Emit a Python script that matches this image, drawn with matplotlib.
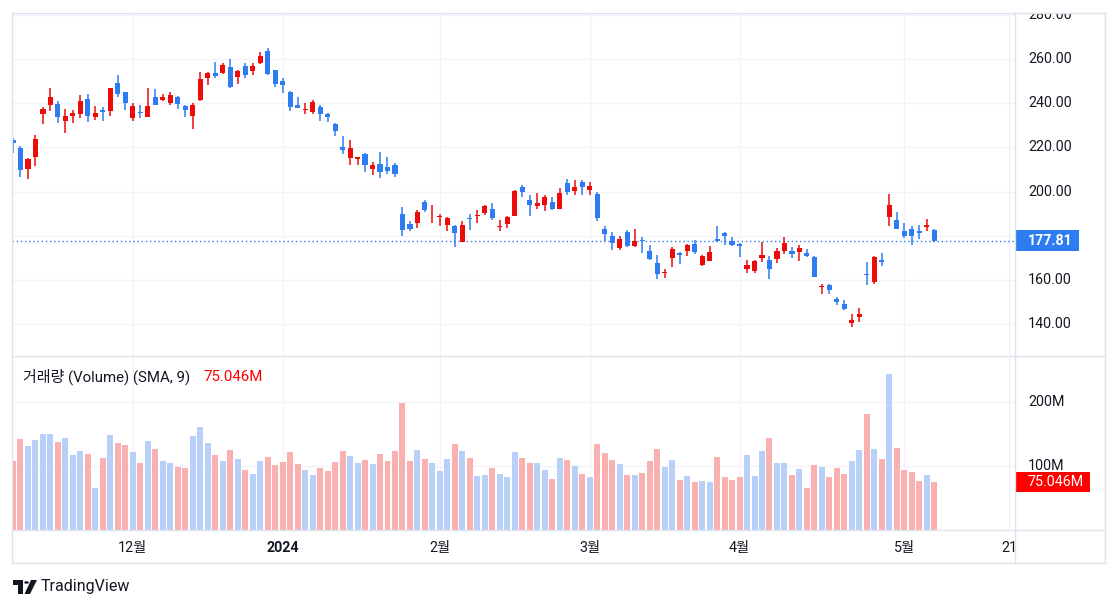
import matplotlib
matplotlib.use("Agg")
import matplotlib.pyplot as plt
from matplotlib.patches import Rectangle, Circle, Polygon
import numpy as np
import pandas as pd

plt.rcParams["font.family"] = ["Roboto", "Noto Sans CJK KR", "DejaVu Sans"]

# daily bars, first session 2023-11-08, US market holidays skipped
FIRST_DAY = "2023-11-08"
HOLIDAYS = ["2023-11-23", "2023-12-25", "2024-01-01", "2024-01-15",
            "2024-02-19", "2024-03-29"]
EXTRA_TICK = "2024-05-21"  # future date label on the right edge

OPEN = [223.15, 219.75, 210.03, 215.60, 235.03, 239.29, 239.49, 232.00, 234.04, 235.04,
        242.04, 233.75, 236.89, 236.68, 249.21, 245.14, 233.14, 235.75, 233.87, 242.92,
        241.55, 240.27, 242.74, 238.55, 234.19, 241.22, 251.21, 253.78, 253.48, 256.41,
        251.90, 256.76, 254.49, 258.35, 263.66, 255.10, 250.08, 244.98, 239.25, 236.86,
        236.14, 238.11, 235.10, 230.57, 220.08, 215.10, 214.86, 216.88, 209.99, 212.26,
        211.30, 211.88, 189.70, 185.50, 185.63, 195.33, 187.00, 188.50, 185.04, 184.26,
        177.21, 188.18, 189.00, 190.18, 192.11, 183.99, 185.30, 189.16, 202.06, 196.13,
        193.36, 194.00, 195.31, 192.29, 204.04, 200.42, 204.18, 200.52, 198.73, 183.05,
        179.99, 174.35, 181.50, 175.45, 177.77, 173.05, 167.77, 163.16, 170.02, 172.36,
        173.00, 176.39, 166.69, 168.76, 178.58, 181.41, 177.45, 176.17, 164.75, 164.02,
        170.07, 169.08, 169.34, 172.91, 173.04, 172.55, 172.34, 170.24, 156.74, 157.64,
        151.25, 148.97, 140.56, 143.33, 162.84, 158.96, 168.85, 188.42, 186.98, 182.00,
        182.86, 182.10, 183.80, 182.40]
HIGH = [224.15, 220.80, 215.38, 225.40, 238.14, 246.70, 240.88, 237.39, 237.10, 243.62,
        244.01, 238.75, 238.33, 247.00, 252.75, 245.22, 240.19, 239.37, 246.66, 246.57,
        244.08, 245.27, 243.44, 238.99, 240.30, 253.88, 254.13, 258.74, 258.34, 259.84,
        254.80, 258.22, 257.97, 263.34, 265.13, 255.19, 251.25, 245.68, 242.70, 240.12,
        241.25, 238.96, 235.50, 230.93, 225.34, 223.49, 215.67, 217.45, 213.19, 217.80,
        215.65, 212.73, 193.00, 186.78, 191.48, 196.36, 193.97, 189.88, 188.69, 184.81,
        186.49, 189.79, 191.62, 194.12, 194.73, 187.26, 188.89, 200.88, 203.17, 198.60,
        199.44, 198.32, 197.57, 201.78, 205.60, 205.30, 205.28, 204.52, 199.75, 184.59,
        181.58, 180.04, 182.73, 182.87, 179.43, 176.05, 171.17, 165.18, 174.72, 172.82,
        176.25, 178.18, 171.20, 175.24, 184.25, 181.91, 179.57, 176.75, 168.82, 168.82,
        177.19, 170.86, 174.50, 179.22, 174.93, 175.88, 173.81, 170.69, 158.19, 158.33,
        152.20, 150.94, 144.44, 147.26, 167.97, 170.88, 172.12, 198.87, 190.95, 185.86,
        184.60, 184.78, 187.56, 183.26]
LOW = [217.64, 206.68, 205.69, 211.61, 230.72, 236.45, 230.96, 226.54, 231.02, 233.34,
       231.40, 232.33, 232.10, 234.01, 242.76, 236.91, 231.90, 233.29, 233.70, 239.17,
       240.79, 239.27, 237.45, 233.87, 228.20, 240.79, 248.30, 251.36, 253.01, 247.00,
       248.55, 251.37, 252.91, 257.52, 252.71, 247.43, 244.41, 236.32, 237.73, 234.90,
       235.30, 232.04, 231.29, 225.37, 217.15, 212.18, 212.01, 208.74, 207.56, 206.27,
       207.75, 206.77, 180.06, 182.10, 183.67, 190.61, 185.85, 184.28, 182.00, 175.01,
       177.11, 182.68, 185.58, 189.48, 187.28, 182.11, 183.35, 188.86, 197.40, 189.13,
       191.95, 191.36, 191.50, 192.00, 198.26, 198.44, 198.45, 198.50, 186.72, 177.57,
       173.70, 173.70, 174.70, 174.80, 172.41, 169.15, 160.51, 160.76, 165.90, 167.42,
       170.82, 171.80, 166.30, 168.73, 177.38, 176.00, 175.30, 170.21, 163.28, 163.28,
       168.01, 160.51, 167.79, 171.92, 170.01, 168.51, 170.36, 161.38, 153.75, 153.78,
       148.70, 146.22, 138.80, 141.11, 157.51, 158.36, 166.37, 184.54, 182.84, 179.01,
       176.02, 178.42, 182.20, 177.40]
CLOSE = [222.11, 209.98, 214.65, 223.71, 237.41, 242.84, 233.59, 234.30, 235.60, 241.20,
         234.21, 235.45, 236.08, 246.72, 244.14, 240.08, 238.83, 235.58, 238.72, 239.37,
         242.64, 243.84, 239.74, 237.01, 239.29, 251.05, 253.50, 252.08, 257.22, 247.14,
         254.50, 252.54, 256.61, 261.44, 253.18, 248.48, 248.42, 238.45, 237.93, 237.49,
         240.45, 234.96, 233.94, 227.22, 218.89, 219.91, 215.55, 211.88, 212.19, 208.80,
         209.14, 207.83, 182.63, 183.25, 190.93, 191.59, 187.29, 188.86, 187.91, 181.06,
         185.10, 187.58, 189.56, 193.57, 188.13, 184.02, 188.71, 200.45, 199.95, 193.76,
         194.77, 197.41, 191.97, 199.40, 199.73, 202.04, 201.88, 202.64, 188.14, 180.74,
         176.54, 178.65, 175.34, 177.77, 177.54, 169.48, 162.50, 163.57, 173.80, 171.32,
         175.66, 172.82, 170.83, 172.63, 177.67, 179.83, 175.79, 175.22, 166.63, 168.38,
         171.11, 164.90, 172.98, 176.88, 171.76, 174.60, 171.05, 161.48, 157.11, 155.45,
         149.93, 147.05, 142.05, 144.68, 162.13, 170.18, 168.29, 194.05, 183.28, 179.99,
         180.01, 181.19, 184.76, 177.81]
VOLUME_M = [108, 142, 131, 141, 150, 150, 137, 144, 117, 123,
            119, 66, 112, 148, 136, 133, 122, 105, 139, 127,
            108, 105, 98, 97, 147, 161, 136, 117, 108, 125,
            111, 94, 88, 108, 114, 102, 106, 122, 103, 94,
            86, 97, 92, 106, 123, 116, 105, 109, 103, 119,
            108, 123, 198, 108, 125, 111, 105, 92, 111, 134,
            123, 112, 84, 86, 97, 88, 83, 122, 112, 105,
            105, 94, 80, 112, 109, 100, 88, 83, 134, 120,
            109, 103, 86, 86, 89, 108, 127, 98, 109, 78,
            84, 75, 77, 75, 114, 83, 78, 83, 117, 84,
            123, 144, 105, 105, 86, 95, 66, 102, 98, 83,
            97, 88, 108, 125, 181, 127, 111, 244, 128, 94,
            91, 77, 86, 75.046]
PRICE_TICKS = [140, 160, 180, 200, 220, 240, 260, 280]
VOLUME_TICKS_M = [100, 200]
LEGEND_TEXT = "거래량 (Volume) (SMA, 9)"

UP = "#ec0c0c"
DOWN = "#2e7cf2"
UP_VOL = "#b8d0f8"     # volume pane uses the opposite tint
DOWN_VOL = "#f8b0b0"
GRID = "#f0f3fa"
BORDER = "#e0e3eb"
TEXT = "#131722"

W, H = 1118, 609
fig = plt.figure(figsize=(W / 100, H / 100), dpi=100)


def box(x0, y0, x1, y1):
    """pixel box (top-left origin) -> figure fraction rect"""
    return [x0 / W, 1 - y1 / H, (x1 - x0) / W, (y1 - y0) / H]


PANE_L, PANE_R, AXIS_R = 12, 1015, 1105
TOP, SEP, VBOT, BOT = 13, 356, 530, 563
PMIN, PMAX = 125.6, 280.8

ax_p = fig.add_axes(box(PANE_L, TOP, PANE_R, SEP))
ax_pa = fig.add_axes(box(PANE_R, TOP, AXIS_R, SEP), sharey=ax_p)
ax_v = fig.add_axes(box(PANE_L, SEP, PANE_R, VBOT), sharex=ax_p)
ax_va = fig.add_axes(box(PANE_R, SEP, AXIS_R, VBOT), sharey=ax_v)
ax_t = fig.add_axes(box(PANE_L, VBOT, PANE_R, BOT), sharex=ax_p)
for a in (ax_p, ax_pa, ax_v, ax_va, ax_t):
    a.set_axis_off()

o, h, l, c = (np.array(v) for v in (OPEN, HIGH, LOW, CLOSE))
vol = np.array(VOLUME_M)
x = np.arange(len(c))
up = c >= o
cols = np.where(up, UP, DOWN)

dates = pd.bdate_range(FIRST_DAY, periods=len(c) + 20, freq="C", holidays=HOLIDAYS)
ticks, labels = [], []
for i in range(1, len(c)):
    if dates[i].month != dates[i - 1].month:
        ticks.append(i)
        labels.append(str(dates[i].year) if dates[i].month == 1 else f"{dates[i].month}월")
ticks.append(dates.get_loc(pd.Timestamp(EXTRA_TICK)))
labels.append(str(pd.Timestamp(EXTRA_TICK).day))

# x scale: ~7.49 px per bar, first bar 1px inside the pane
bar_px = 7.49
ax_p.set_xlim(-1 / bar_px, -1 / bar_px + (PANE_R - PANE_L) / bar_px)
ax_p.set_ylim(PMIN, PMAX)
vmax = 272.0
ax_v.set_ylim(0, vmax)
ax_pa.set_xlim(0, AXIS_R - PANE_R)
ax_va.set_xlim(0, AXIS_R - PANE_R)
ax_t.set_ylim(0, BOT - VBOT)

# grid
for t in ticks:
    ax_p.axvline(t, color=GRID, lw=1, zorder=0)
    ax_v.axvline(t, color=GRID, lw=1, zorder=0)
for p in PRICE_TICKS:
    ax_p.axhline(p, color=GRID, lw=1, zorder=0)
for v in VOLUME_TICKS_M:
    ax_v.axhline(v, color=GRID, lw=1, zorder=0)

# candles
ax_p.vlines(x, l, h, colors=cols, lw=1.1, zorder=2)
body = np.maximum(np.abs(c - o), 0.35)
ax_p.bar(x, body, bottom=np.minimum(o, c), width=0.68, color=cols, lw=0, zorder=3)
last_col = DOWN if c[-1] < o[-1] else UP
ax_p.axhline(c[-1], color=last_col, lw=1, ls=(0, (1, 2)), zorder=1)

# volume
ax_v.bar(x, vol, width=0.8, color=np.where(up, UP_VOL, DOWN_VOL), lw=0, zorder=2)

# price axis labels (the ones hidden under the last-price tag are skipped)
ppu = (SEP - TOP) / (PMAX - PMIN)
for p in PRICE_TICKS:
    if abs(p - c[-1]) * ppu < 16:
        continue
    ax_pa.text(13, p, f"{p:.2f}", ha="left", va="center", fontsize=10.3, color=TEXT, clip_on=True)
ax_pa.add_patch(Rectangle((0, c[-1] - 10.5 / ppu), 64, 21 / ppu, color=last_col, lw=0, zorder=5))
ax_pa.text(13, c[-1], f"{c[-1]:.2f}", ha="left", va="center", fontsize=10.3,
           color="white", fontweight="bold", zorder=6)

# volume axis labels
for v in VOLUME_TICKS_M:
    ax_va.text(13, v, f"{v}M", ha="left", va="center", fontsize=10.3, color=TEXT, clip_on=True)
vppu = (VBOT - SEP) / vmax
vol_col = "#ff0000" if not up[-1] else DOWN
ax_va.add_patch(Rectangle((0, vol[-1] - 10 / vppu), 75, 20 / vppu, color=vol_col, lw=0, zorder=5))
ax_va.text(13, vol[-1], f"{vol[-1]:.3f}M", ha="left", va="center", fontsize=10.3,
           color="white", zorder=6)

# time axis labels
for t, lab in zip(ticks, labels):
    ax_t.text(t, 15, lab, ha="center", va="center", fontsize=10.3, color=TEXT,
              fontweight="bold" if lab.isdigit() and len(lab) == 4 else "normal", clip_on=True)

# legend of the volume pane
fig.text(23 / W, 1 - 377 / H, LEGEND_TEXT, ha="left", va="center", fontsize=10.8, color=TEXT)
fig.text(203 / W, 1 - 377 / H, f"{vol[-1]:.3f}M", ha="left", va="center", fontsize=10.8,
         color="#ff0000")

# frame and separators
def hline(y, x0, x1):
    fig.add_artist(plt.Line2D([x0 / W, x1 / W], [1 - y / H, 1 - y / H], color=BORDER, lw=1))


def vline(xp, y0, y1):
    fig.add_artist(plt.Line2D([xp / W, xp / W], [1 - y0 / H, 1 - y1 / H], color=BORDER, lw=1))


hline(TOP, PANE_L, AXIS_R)
hline(BOT, PANE_L, AXIS_R)
hline(SEP, PANE_L, AXIS_R)
hline(VBOT, PANE_L, AXIS_R)
vline(PANE_L, TOP, BOT)
vline(AXIS_R, TOP, BOT)
vline(PANE_R, TOP, BOT)

# TradingView logo
def fpoly(pts):
    return Polygon([(px / W, 1 - py / H) for px, py in pts], closed=True,
                   transform=fig.transFigure, color=TEXT, lw=0)


fig.add_artist(fpoly([(13, 580), (23, 580), (23, 594), (18, 594), (18, 584.5), (13, 584.5)]))
fig.add_artist(Circle((26.5 / W, 1 - 582.5 / H), 2.3 / W, transform=fig.transFigure, color=TEXT, lw=0))
fig.add_artist(fpoly([(31, 580), (37, 580), (30, 594), (24.5, 594)]))
fig.text(41 / W, 1 - 587 / H, "TradingView", ha="left", va="center", fontsize=11.5, color=TEXT)

fig.savefig("out.png", dpi=100)
